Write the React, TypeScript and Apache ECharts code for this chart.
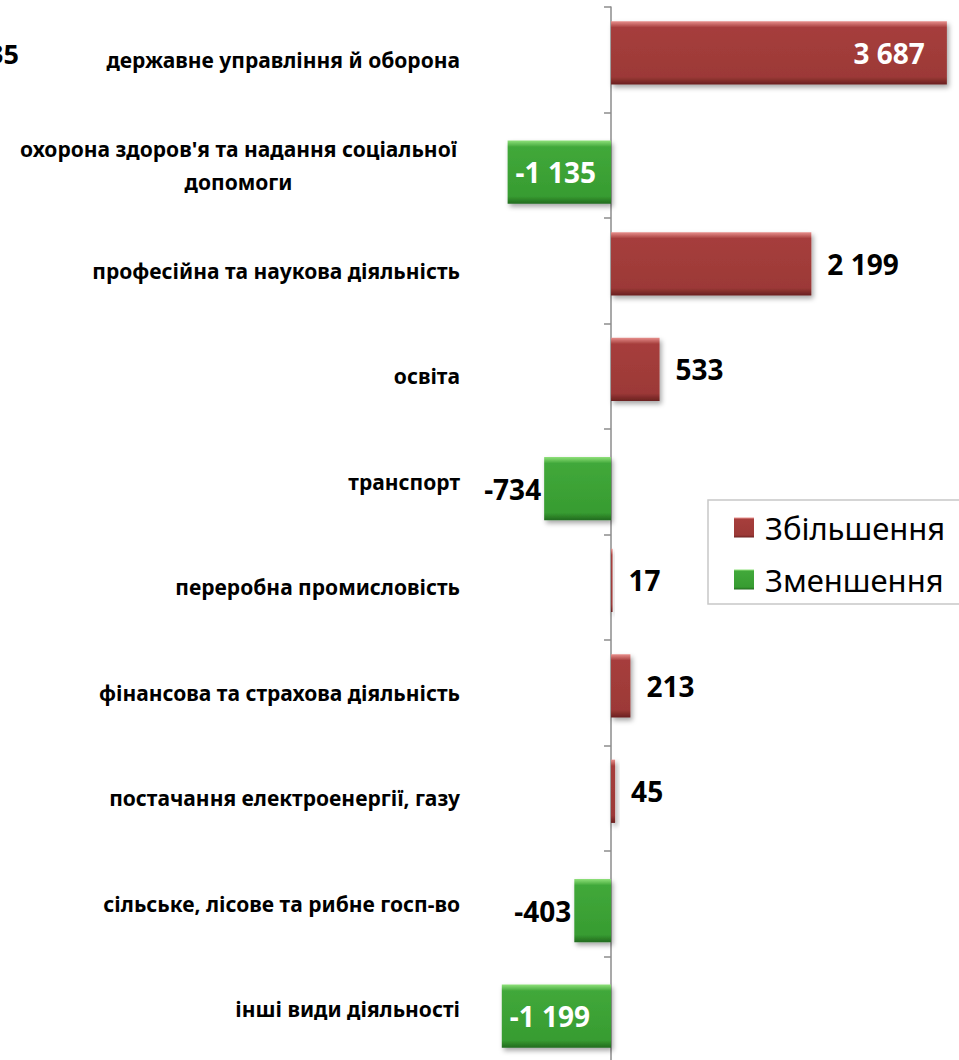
import React, { useEffect, useRef } from "react";
import * as echarts from "echarts";

const categories = [
  "державне управління й оборона",
  "охорона здоров'я та надання соціальної\nдопомоги",
  "професійна та наукова діяльність",
  "освіта",
  "транспорт",
  "переробна промисловість",
  "фінансова та страхова діяльність",
  "постачання електроенергії, газу",
  "сільське, лісове та рибне госп-во",
  "інші види діяльності",
];
const increaseValues: (number | null)[] = [3687, null, 2199, 533, null, 17, 213, 45, null, null];
const decreaseValues: (number | null)[] = [null, -1135, null, null, -734, null, null, null, -403, -1199];
const seriesNames = ["Збільшення", "Зменшення"];

const fmt = (v: number) => {
  const s = Math.abs(v).toString().replace(/\B(?=(\d{3})+(?!\d))/g, " ");
  return (v < 0 ? "-" : "") + s;
};

const FONT = "'Noto Sans', 'DejaVu Sans', sans-serif";

function buildData(values: (number | null)[]) {
  return values.map((v) => {
    if (v === null) return "-";
    let label: any;
    if (v > 3000) {
      label = { position: "insideRight", distance: 22, color: "#ffffff" };
    } else if (v >= 0) {
      label = { position: "right", distance: 16, color: "#000000" };
    } else if (v < -1000) {
      label = { position: "insideLeft", distance: 8, color: "#ffffff" };
    } else {
      label = { position: "left", distance: 3, color: "#000000" };
    }
    return { value: v, label };
  });
}

export default function App() {
  const ref = useRef<HTMLDivElement>(null);
  useEffect(() => {
    document.body.style.margin = "0";
    if (!ref.current) return;
    const chart = echarts.init(ref.current, undefined, { renderer: "svg" });
    const red = new echarts.graphic.LinearGradient(0, 0, 0, 1, [
      { offset: 0, color: "#e8908d" },
      { offset: 0.1, color: "#a63e3c" },
      { offset: 0.88, color: "#9c3937" },
      { offset: 1, color: "#6a2120" },
    ]);
    const green = new echarts.graphic.LinearGradient(0, 0, 0, 1, [
      { offset: 0, color: "#8fe07a" },
      { offset: 0.1, color: "#41a83a" },
      { offset: 0.88, color: "#379c31" },
      { offset: 1, color: "#226a1e" },
    ]);
    const labelBase = {
      show: true,
      fontFamily: FONT,
      fontWeight: "bold",
      fontSize: 28,
      formatter: (p: any) => fmt(p.value),
    };
    const itemBase = {
      shadowBlur: 5,
      shadowOffsetX: 2,
      shadowOffsetY: 3,
      shadowColor: "rgba(0,0,0,0.35)",
    };
    chart.setOption({
      animation: false,
      backgroundColor: "#ffffff",
      grid: { left: 470, right: 0, top: 7, bottom: -2, containLabel: false, outerBoundsMode: "none" },
      xAxis: {
        type: "value",
        min: -1548,
        max: 3820,
        show: false,
        splitLine: { show: false },
      },
      yAxis: {
        type: "category",
        inverse: true,
        data: categories,
        axisLine: { show: true, onZero: true, lineStyle: { color: "#8c8c8c", width: 1.5 } },
        axisTick: { show: true, length: 7, lineStyle: { color: "#8c8c8c", width: 1.5 } },
        axisLabel: {
          margin: 10,
          fontFamily: FONT,
          fontWeight: "bold",
          fontSize: 21,
          color: "#000000",
          lineHeight: 33,
          formatter: (v: string) => {
            if (v.indexOf("\n") >= 0) {
              return v
                .split("\n")
                .map((l) => "{c|" + l + "}")
                .join("\n");
            }
            return v;
          },
          rich: {
            c: {
              width: 443,
              align: "center",
              fontFamily: FONT,
              fontWeight: "bold",
              fontSize: 21,
              color: "#000000",
              lineHeight: 33,
            },
          },
        },
      },
      legend: {
        orient: "vertical",
        left: 708,
        top: 500,
        padding: [12, 80, 9, 26],
        itemGap: 21,
        itemWidth: 20,
        itemHeight: 20,
        borderColor: "#c8c8c8",
        borderWidth: 1.5,
        icon: "rect",
        textStyle: { fontFamily: FONT, fontSize: 31, color: "#000000", padding: [0, 0, 0, 6] },
        data: seriesNames,
      },
      graphic: [
        {
          type: "text",
          x: 19,
          y: 53,
          style: {
            text: "1 135",
            fontFamily: FONT,
            fontWeight: "bold",
            fontSize: 27,
            fill: "#000000",
            align: "right",
            verticalAlign: "middle",
          },
        },
      ],
      series: [
        {
          name: seriesNames[0],
          type: "bar",
          data: buildData(increaseValues),
          barWidth: "60%",
          barGap: "-78%",
          itemStyle: { color: red, ...itemBase },
          label: labelBase,
        },
        {
          name: seriesNames[1],
          type: "bar",
          data: buildData(decreaseValues),
          barWidth: "60%",
          barGap: "-78%",
          itemStyle: { color: green, ...itemBase },
          label: labelBase,
        },
      ],
    });
    return () => chart.dispose();
  }, []);
  return <div ref={ref} style={{ width: 959, height: 1060 }} />;
}
